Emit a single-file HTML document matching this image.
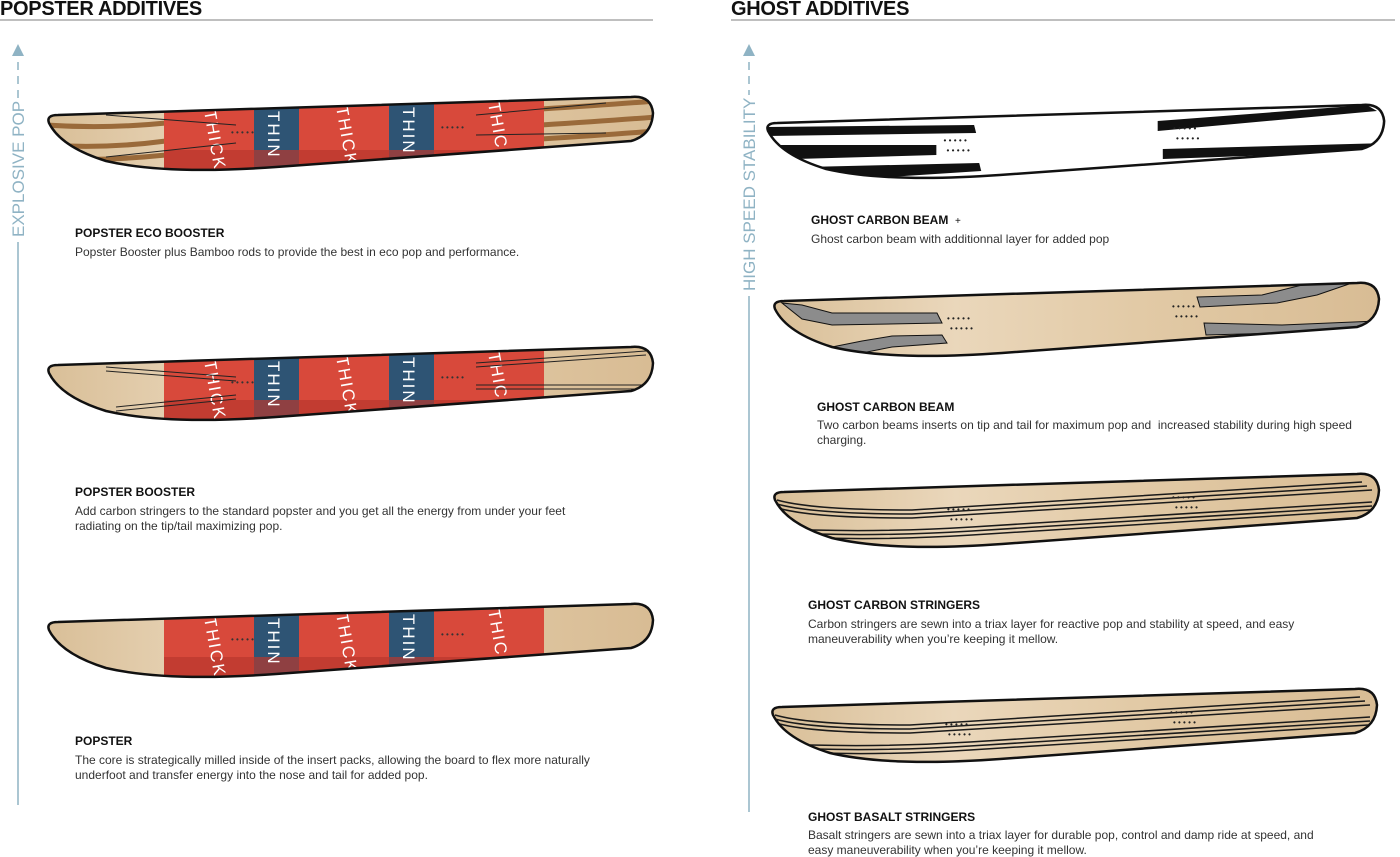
<!DOCTYPE html>
<html><head><meta charset="utf-8"><style>
body{margin:0;background:#fff;width:1400px;height:856px;overflow:hidden;font-family:"Liberation Sans",sans-serif;position:relative}
.h{position:absolute;font-weight:bold;font-size:20px;color:#111;letter-spacing:-0.3px;line-height:20px}
.t{position:absolute;font-weight:bold;font-size:12px;color:#111}
.d{position:absolute;font-size:12px;color:#333;line-height:14.5px}
</style></head><body>
<svg width="1400" height="856" style="position:absolute;left:0;top:0">
<defs>
<path id="B" d="M3,28 Q0,20 12,20 L585,2 Q605,0 607,18 Q606,40 585,46 L230,72 Q120,80 60,66 Q15,52 3,28 Z"/>
<clipPath id="C"><use href="#B"/></clipPath>
<linearGradient id="W" x1="0" x2="1"><stop offset="0" stop-color="#d9bf98"/><stop offset=".3" stop-color="#ead7bb"/><stop offset=".6" stop-color="#e2caa6"/><stop offset="1" stop-color="#d8bc94"/></linearGradient>
<g id="red"><rect x="118" y="-10" width="380" height="100" fill="#d8493b"/><rect x="208" y="-10" width="45" height="100" fill="#2e5474"/><rect x="343" y="-10" width="45" height="100" fill="#2e5474"/><rect x="118" y="55" width="380" height="30" fill="#b9372e" opacity=".7"/>
<g fill="#fff" font-size="17" letter-spacing="2"><text transform="translate(158,16) rotate(80)">THICK</text><text transform="translate(222,16) rotate(90)">THIN</text><text transform="translate(290,12) rotate(80)">THICK</text><text transform="translate(357,12) rotate(90)">THIN</text><text transform="translate(442,8) rotate(80)">THICK</text></g>
<g fill="#333"><text x="185" y="40" font-size="8">• • • • •</text><text x="395" y="35" font-size="8">• • • • •</text></g></g>
<g id="lines" fill="none" stroke="#1a1a1a" stroke-width="1.5"><path d="M5,28 Q40,38 140,38 L590,10"/><path d="M5,32 Q40,42 140,42 L595,14"/><path d="M6,36 Q40,46 140,46 L600,18"/><path d="M40,58 Q120,60 200,55 L600,30"/><path d="M45,62 Q120,64 200,59 L600,34"/><path d="M50,66 Q120,68 200,63 L598,38"/></g>
<g id="dots" fill="#222" font-size="8"><text x="175" y="40">• • • • •</text><text x="178" y="50">• • • • •</text><text x="400" y="28">• • • • •</text><text x="403" y="38">• • • • •</text></g>
</defs>
<line x1="0" y1="20" x2="653" y2="20" stroke="#999" stroke-width="1.2"/>
<line x1="731" y1="20" x2="1395" y2="20" stroke="#999" stroke-width="1.2"/>
<g stroke="#8fb3c4" stroke-width="1.5"><polygon points="18,44 12,56 24,56" fill="#8fb3c4" stroke="none"/><line x1="18" y1="62" x2="18" y2="100" stroke-dasharray="8,6"/><line x1="18" y1="242" x2="18" y2="805"/>
<polygon points="749,44 743,56 755,56" fill="#8fb3c4" stroke="none"/><line x1="749" y1="62" x2="749" y2="95" stroke-dasharray="8,6"/><line x1="749" y1="296" x2="749" y2="812"/></g>
<text transform="translate(24,237) rotate(-90)" fill="#8fb3c4" font-size="17">EXPLOSIVE POP</text>
<text transform="translate(755,291) rotate(-90)" fill="#8fb3c4" font-size="17">HIGH SPEED STABILITY</text>
<g transform="translate(46,95)"><use href="#B" fill="url(#W)"/><g clip-path="url(#C)"><g fill="none" stroke="#9a6a3a" stroke-width="5"><path d="M0,30 Q60,34 120,28"/><path d="M0,50 Q60,54 120,46"/><path d="M10,64 Q60,66 120,60"/><path d="M495,14 Q560,10 610,6"/><path d="M495,30 Q560,26 610,22"/><path d="M495,44 Q560,40 610,36"/></g><use href="#red"/><g fill="none" stroke="#222" stroke-width="1"><path d="M60,20 L190,30"/><path d="M60,62 L190,48"/><path d="M430,20 L560,8"/><path d="M430,40 L560,38"/></g></g><use href="#B" fill="none" stroke="#111" stroke-width="2.5"/></g>
<g transform="translate(46,345)"><use href="#B" fill="url(#W)"/><g clip-path="url(#C)"><use href="#red"/><g fill="none" stroke="#222" stroke-width="1"><path d="M60,22 L190,32"/><path d="M60,26 L190,36"/><path d="M70,62 L190,50"/><path d="M70,66 L190,54"/><path d="M430,18 L600,6"/><path d="M430,22 L600,10"/><path d="M430,40 L600,40"/><path d="M430,44 L600,44"/></g></g><use href="#B" fill="none" stroke="#111" stroke-width="2.5"/></g>
<g transform="translate(46,602)"><use href="#B" fill="url(#W)"/><g clip-path="url(#C)"><use href="#red"/></g><use href="#B" fill="none" stroke="#111" stroke-width="2.5"/></g>
<g transform="translate(765,103) scale(1.02,1)"><use href="#B" fill="#fff"/><g clip-path="url(#C)" fill="#111"><polygon points="0,24 205,22 207,30 0,33"/><polygon points="0,42 168,42 168,52 30,56"/><polygon points="40,64 210,60 212,68 60,78"/><polygon points="385,18 590,2 600,8 385,28"/><polygon points="390,46 610,40 610,48 390,56"/></g><use href="#dots"/><use href="#B" fill="none" stroke="#111" stroke-width="2.5"/></g>
<g transform="translate(772,281)"><use href="#B" fill="url(#W)"/><g clip-path="url(#C)" fill="#8c8c8c" stroke="#111" stroke-width="1"><polygon points="10,22 30,24 60,32 165,32 170,42 60,44 30,38"/><polygon points="40,70 90,60 120,55 170,54 175,62 120,66 90,72"/><polygon points="425,16 490,14 530,4 580,2 545,14 505,22 428,26"/><polygon points="432,42 510,44 605,40 605,48 510,52 434,54"/></g><use href="#dots"/><use href="#B" fill="none" stroke="#111" stroke-width="2.5"/></g>
<g transform="translate(772,472)"><use href="#B" fill="url(#W)"/><g clip-path="url(#C)"><use href="#lines"/></g><use href="#dots"/><use href="#B" fill="none" stroke="#111" stroke-width="2.5"/></g>
<g transform="translate(770,687)"><use href="#B" fill="url(#W)"/><g clip-path="url(#C)"><use href="#lines"/></g><use href="#dots"/><use href="#B" fill="none" stroke="#111" stroke-width="2.5"/></g>
</svg>
<div class="h" style="left:0;top:-1px">POPSTER ADDITIVES</div>
<div class="h" style="left:731px;top:-1px">GHOST ADDITIVES</div>
<div class="t" style="left:75px;top:226px">POPSTER ECO BOOSTER</div>
<div class="d" style="left:75px;top:245px">Popster Booster plus Bamboo rods to provide the best in eco pop and performance.</div>
<div class="t" style="left:75px;top:485px">POPSTER BOOSTER</div>
<div class="d" style="left:75px;top:504px;width:530px">Add carbon stringers to the standard popster and you get all the energy from under your feet radiating on the tip/tail maximizing pop.</div>
<div class="t" style="left:75px;top:734px">POPSTER</div>
<div class="d" style="left:75px;top:753px;width:545px">The core is strategically milled inside of the insert packs, allowing the board to flex more naturally underfoot and transfer energy into the nose and tail for added pop.</div>
<div class="t" style="left:811px;top:213px">GHOST CARBON BEAM &nbsp;<span style="font-weight:normal;font-size:10px">+</span></div>
<div class="d" style="left:811px;top:232px">Ghost carbon beam with additionnal layer for added pop</div>
<div class="t" style="left:817px;top:400px">GHOST CARBON BEAM</div>
<div class="d" style="left:817px;top:418px;width:560px">Two carbon beams inserts on tip and tail for maximum pop and &nbsp;increased stability during high speed charging.</div>
<div class="t" style="left:808px;top:598px">GHOST CARBON STRINGERS</div>
<div class="d" style="left:808px;top:617px;width:520px">Carbon stringers are sewn into a triax layer for reactive pop and stability at speed, and easy maneuverability when you’re keeping it mellow.</div>
<div class="t" style="left:808px;top:810px">GHOST BASALT STRINGERS</div>
<div class="d" style="left:808px;top:828px;width:510px">Basalt stringers are sewn into a triax layer for durable pop, control and damp ride at speed, and easy maneuverability when you’re keeping it mellow.</div>
</body></html>
